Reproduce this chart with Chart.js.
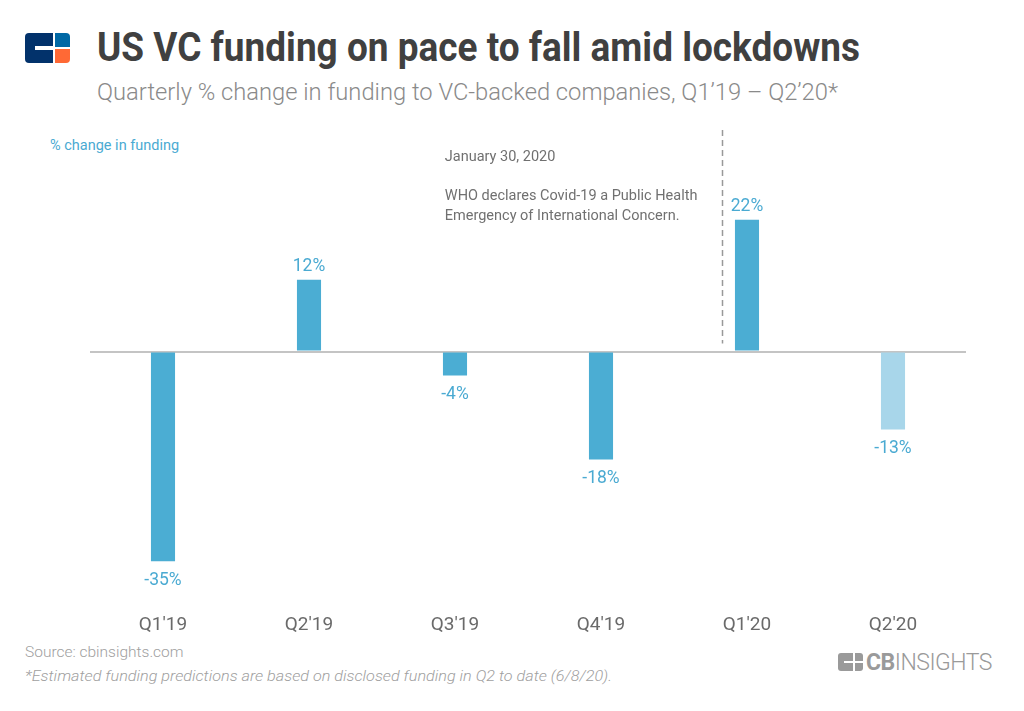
<!DOCTYPE html>
<html><head><meta charset="utf-8">
<script src="https://cdn.jsdelivr.net/npm/chart.js@4.4.0/dist/chart.umd.min.js"></script>
<style>
html,body{margin:0;padding:0;background:#fff;width:1024px;height:711px;overflow:hidden;font-family:Roboto,"Noto Sans",sans-serif;}
.abs{position:absolute;white-space:nowrap;}
#title{left:97px;top:24px;font-size:40px;font-weight:700;color:#404040;transform-origin:0 0;}
#sub{left:97px;top:78px;font-size:24px;font-weight:300;color:#8a8a8a;transform-origin:0 0;}
#ylab{left:50px;top:137px;font-size:14.5px;color:#4aaad2;}
#src{left:25px;top:643px;font-size:15.5px;color:#a0a0a0;font-weight:300;}
#foot{left:25px;top:667px;font-size:15.5px;color:#a0a0a0;font-style:italic;font-weight:300;transform-origin:0 0;}
#cbtext{left:866px;top:649px;font-size:23px;color:#9a9a9a;transform-origin:0 0;letter-spacing:-0.5px;}
#wrap{position:absolute;left:0;top:124px;width:1024px;height:524px;}
</style></head>
<body>
<div class="abs" style="left:25px;top:33px;width:45px;height:30px;">
  <div style="position:absolute;left:0;top:0;width:28px;height:30px;background:#02326b;border-radius:4px 0 0 4px;"></div>
  <div style="position:absolute;left:10px;top:13px;width:18px;height:4px;background:#fff;"></div>
  <div style="position:absolute;left:30px;top:0;width:15px;height:14px;background:#0068a5;border-radius:0 4px 0 0;"></div>
  <div style="position:absolute;left:30px;top:16px;width:15px;height:14px;background:#ff6935;border-radius:0 0 4px 0;"></div>
</div>
<div class="abs" id="title">US VC funding on pace to fall amid lockdowns</div>
<div class="abs" id="sub">Quarterly % change in funding to VC-backed companies, Q1’19 – Q2’20*</div>
<div class="abs" id="ylab">% change in funding</div>
<div class="abs" id="src">Source: cbinsights.com</div>
<div class="abs" id="foot">*Estimated funding predictions are based on disclosed funding in Q2 to date (6/8/20).</div>
<div class="abs" style="left:838px;top:653px;width:25px;height:18px;">
  <div style="position:absolute;left:0;top:0;width:15px;height:18px;background:#9a9a9a;border-radius:3px 0 0 3px;"></div>
  <div style="position:absolute;left:6px;top:8px;width:9px;height:2px;background:#fff;"></div>
  <div style="position:absolute;left:17px;top:0;width:8px;height:8px;background:#9a9a9a;border-radius:0 3px 0 0;"></div>
  <div style="position:absolute;left:17px;top:10px;width:8px;height:8px;background:#9a9a9a;border-radius:0 0 3px 0;"></div>
</div>
<div class="abs" id="cbtext"><b style="font-weight:700">CB</b><span style="font-weight:300">INSIGHTS</span></div>
<div id="wrap"><canvas id="c"></canvas></div>
<script>
const categories = ["Q1'19","Q2'19","Q3'19","Q4'19","Q1'20","Q2'20"];
const changePct = [-35, 12, -4, -18, 22, -13];
const isEstimate = [false,false,false,false,false,true];
const eventIndex = 3.83;
const eventLines = ["January 30, 2020","","WHO declares Covid-19 a Public Health","Emergency of International Concern."];

function fitWidth(id, w){
  const el=document.getElementById(id);
  const r=el.getBoundingClientRect().width;
  el.style.transform='scaleX('+(w/r)+')';
}
fitWidth('title',763);
fitWidth('sub',741);
fitWidth('foot',587);
fitWidth('cbtext',126);

const barColor='#4badd3', estColor='#a8d6ea';

const labelPlugin={
  id:'labels',
  afterDatasetsDraw(chart){
    const ctx=chart.ctx;
    const meta=chart.getDatasetMeta(0);
    const xs=chart.scales.x, ys=chart.scales.y;
    ctx.save();
    ctx.font='17.5px Roboto';
    ctx.fillStyle='#4aaad2';
    ctx.textAlign='center';ctx.textBaseline='middle';
    meta.data.forEach((bar,i)=>{
      const v=changePct[i];
      const y = v>=0 ? bar.y-13 : bar.y+19;
      ctx.fillText(v+'%', bar.x, y);
    });
    // event line
    const ex=Math.round(xs.getPixelForValue(eventIndex))+0.5;
    ctx.strokeStyle='#999999';ctx.lineWidth=1.5;ctx.setLineDash([6,4]);
    ctx.beginPath();ctx.moveTo(ex, ys.getPixelForValue(37));ctx.lineTo(ex, ys.getPixelForValue(0)-8);ctx.stroke();
    ctx.setLineDash([]);
    ctx.font='14.5px Roboto';ctx.fillStyle='#707070';ctx.textAlign='left';
    const tx=xs.getPixelForValue(1.93);
    const ty=ys.getPixelForValue(32.5);
    eventLines.forEach((l,k)=>{ if(l) ctx.fillText(l, tx, ty+ (k===0?0: 39+(k-2)*20)); });
    ctx.restore();
  }
};

new Chart(document.getElementById('c'),{
  type:'bar',
  data:{labels:categories,datasets:[{
    data:changePct,
    backgroundColor:isEstimate.map(e=>e?estColor:barColor),
    borderWidth:0,
    categoryPercentage:1,
    barPercentage:0.165
  }]},
  options:{
    responsive:true,maintainAspectRatio:false,animation:false,
    layout:{padding:{left:90,right:58,top:0,bottom:8}},
    plugins:{legend:{display:false},tooltip:{enabled:false}},
    scales:{
      x:{grid:{display:false},border:{display:false},
         ticks:{color:'#6a6a6a',font:{family:'Roboto',size:19},padding:3}},
      y:{min:-42,max:38,
         ticks:{display:false},border:{display:false},
         grid:{color:c=>c.tick.value===0?'#c4c4c4':'rgba(0,0,0,0)',lineWidth:c=>c.tick.value===0?2:0,drawTicks:false}}
    }
  },
  plugins:[labelPlugin]
});
</script>
</body></html>
